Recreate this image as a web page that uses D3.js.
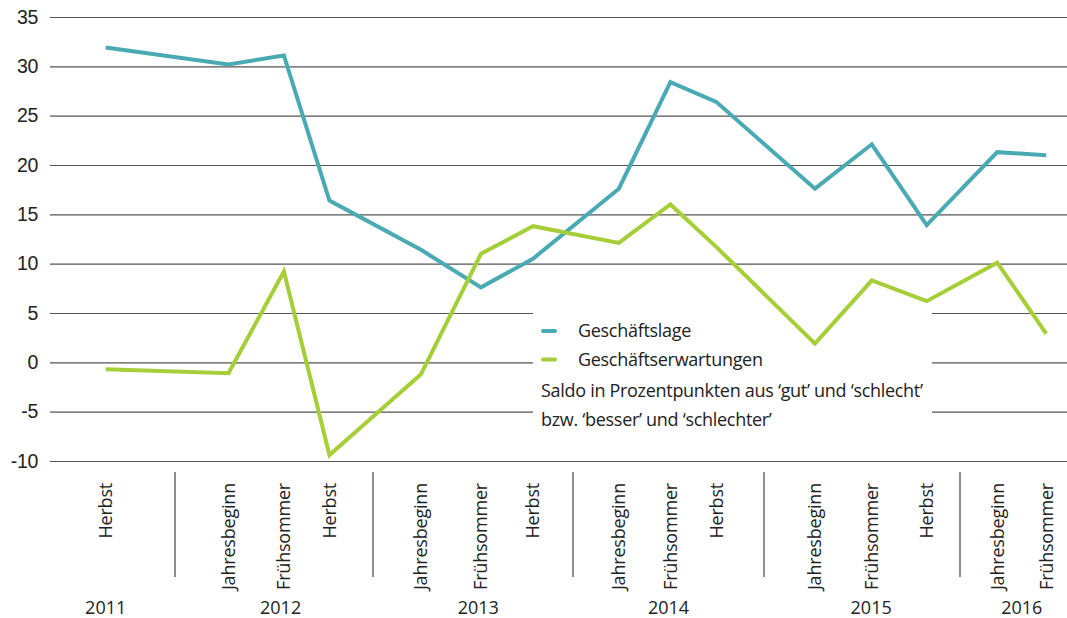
<!DOCTYPE html>
<html>
<head>
<meta charset="utf-8">
<script src="https://cdn.jsdelivr.net/npm/d3@7"></script>
<style>
  body { margin: 0; background: #fff; }
  svg { display: block; font-family: "Open Sans", "Noto Sans", sans-serif; }
  .tick text { fill: #222; }
</style>
</head>
<body>
<svg width="1067" height="618"></svg>
<script>
// data
var waves = ["Herbst", "Jahresbeginn", "Frühsommer", "Herbst", "Jahresbeginn", "Frühsommer", "Herbst",
             "Jahresbeginn", "Frühsommer", "Herbst", "Jahresbeginn", "Frühsommer", "Herbst",
             "Jahresbeginn", "Frühsommer"];
var waveYear = [2011, 2012, 2012, 2012, 2013, 2013, 2013, 2014, 2014, 2014, 2015, 2015, 2015, 2016, 2016];
// approximate survey date (decimal year)
var waveTime = [2011.65, 2012.27, 2012.55, 2012.78, 2013.24, 2013.54, 2013.80, 2014.24, 2014.51, 2014.75,
                2015.26, 2015.55, 2015.83, 2016.19, 2016.44];
var geschaeftslage = [31.9, 30.2, 31.1, 16.4, 11.4, 7.6, 10.5, 17.6, 28.4, 26.4, 17.6, 22.1, 13.9, 21.3, 21.0];
var erwartungen = [-0.7, -1.1, 9.2, -9.4, -1.2, 11.0, 13.8, 12.1, 16.0, 11.7, 1.9, 8.3, 6.2, 10.1, 2.9];
var years = [2011, 2012, 2013, 2014, 2015, 2016];
var yTicks = [-10, -5, 0, 5, 10, 15, 20, 25, 30, 35];
var seriesNames = ["Geschäftslage", "Geschäftserwartungen"];
var note = ["Saldo in Prozentpunkten aus ‘gut’ und ‘schlecht’", "bzw. ‘besser’ und ‘schlechter’"];
// end of data

var svg = d3.select("svg"),
    left = 50,
    right = 1067,
    colors = ["#4aaab4", "#a6ce39"];

var x = d3.scaleLinear()
          .domain([2012, 2013, 2014, 2015, 2016])
          .range([175, 373, 573, 764, 960]);

var y = d3.scaleLinear()
          .domain([-10, 35])
          .range([461, 17]);

// grid + y labels (plain hyphen for negatives, like the original)
var yAxis = svg.append("g")
  .attr("transform", "translate(" + left + ",0)")
  .call(d3.axisLeft(y).tickValues(yTicks).tickSize(-(right - left)).tickPadding(12)
          .tickFormat(function(d) { return String(d); }));
yAxis.select(".domain").remove();
yAxis.selectAll(".tick line").attr("stroke", "#555").attr("stroke-width", 1.2);
yAxis.selectAll(".tick text").style("font-size", "19.5px").style("letter-spacing", "-0.3px").attr("fill", "#222");

// white box behind legend covers grid
svg.append("rect")
  .attr("x", 533).attr("y", 300)
  .attr("width", 932 - 533).attr("height", 140)
  .attr("fill", "#fff");

// lines
var line = d3.line()
  .x(function(d, i) { return x(waveTime[i]); })
  .y(function(d) { return y(d); });

[geschaeftslage, erwartungen].forEach(function(values, k) {
  svg.append("path")
    .datum(values)
    .attr("fill", "none")
    .attr("stroke", colors[k])
    .attr("stroke-width", 4)
    .attr("stroke-linejoin", "miter")
    .attr("d", line);
});

// x labels
svg.append("g").selectAll("text")
  .data(waves)
  .enter().append("text")
    .attr("transform", function(d, i) { return "translate(" + x(waveTime[i]) + ",483) rotate(-90)"; })
    .attr("dy", "0.35em")
    .attr("text-anchor", "end")
    .style("font-size", "18px")
    .style("letter-spacing", "-0.2px")
    .attr("fill", "#222")
    .text(function(d) { return d; });

// year separators
svg.append("g").selectAll("line")
  .data(years.slice(1))
  .enter().append("line")
    .attr("x1", function(d) { return x(d); })
    .attr("x2", function(d) { return x(d); })
    .attr("y1", 472).attr("y2", 577)
    .attr("stroke", "#444").attr("stroke-width", 1.2);

// year labels, centered under their waves
svg.append("g").selectAll("text")
  .data(years)
  .enter().append("text")
    .attr("x", function(yr) {
      return d3.mean(waveTime.filter(function(t, i) { return waveYear[i] === yr; }), x);
    })
    .attr("y", 614)
    .attr("text-anchor", "middle")
    .style("font-size", "18px")
    .attr("fill", "#222")
    .text(function(d) { return d; });

// legend
var legend = svg.append("g").style("letter-spacing", "-0.3px");
seriesNames.forEach(function(name, k) {
  var ly = 331 + k * 28.5;
  legend.append("line")
    .attr("x1", 543).attr("x2", 555)
    .attr("y1", ly).attr("y2", ly)
    .attr("stroke", colors[k]).attr("stroke-width", 4).attr("stroke-linecap", "round");
  legend.append("text")
    .attr("x", 578).attr("y", ly).attr("dy", "0.35em")
    .style("font-size", "18px").attr("fill", "#222")
    .text(name);
});
note.forEach(function(t, k) {
  legend.append("text")
    .attr("x", 541).attr("y", 391 + k * 28.5).attr("dy", "0.35em")
    .style("font-size", "18px").attr("fill", "#222")
    .text(t);
});
</script>
</body>
</html>
